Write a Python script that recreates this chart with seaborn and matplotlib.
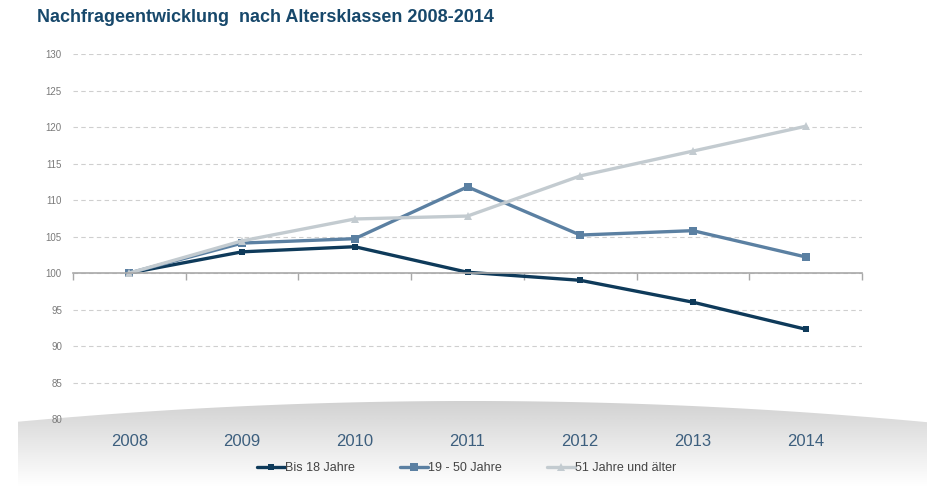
import numpy as np
import pandas as pd
import matplotlib
matplotlib.use("Agg")
import matplotlib.pyplot as plt
import seaborn as sns
from matplotlib.patches import Polygon

jahre = [2008, 2009, 2010, 2011, 2012, 2013, 2014]
bis_18 = [100.0, 102.9, 103.6, 100.1, 99.0, 96.0, 92.3]
j19_50 = [100.0, 104.1, 104.7, 111.8, 105.2, 105.8, 102.2]
ab_51 = [100.0, 104.4, 107.4, 107.8, 113.3, 116.7, 120.1]

serien = ["Bis 18 Jahre", "19 - 50 Jahre", "51 Jahre und älter"]
werte = [bis_18, j19_50, ab_51]
farben = ["#0e3a5a", "#5b80a2", "#c3cbd0"]
marker = ["s", "s", "^"]
msize = [6, 8.5, 7.5]

sns.set_style("white")
plt.rcParams['font.family'] = ['Liberation Sans', 'DejaVu Sans']

fig = plt.figure(figsize=(9.28, 4.86), dpi=100)

# background with the grey curved band
bg = fig.add_axes([0, 0, 1, 1], zorder=0)
bg.set_xlim(0, 928)
bg.set_ylim(486, 0)
bg.axis("off")
xs = np.linspace(18, 928, 200)
top = 401 + 21 * ((xs - 470) / 455) ** 2
poly = np.vstack([np.column_stack([xs, top]), [[928, 486], [18, 486]]])
clip = Polygon(poly, closed=True, facecolor="none", edgecolor="none")
bg.add_patch(clip)
grad = np.linspace(0, 1, 256).reshape(-1, 1)
img = bg.imshow(grad, extent=[18, 928, 486, 398], cmap=matplotlib.colors.LinearSegmentedColormap.from_list(
    "band", ["#d0d0d0", "#e8e8e8", "#ffffff"]), aspect="auto", origin="upper", zorder=0)
img.set_clip_path(clip)

ax = fig.add_axes([73 / 928, 1 - 419 / 486, 789 / 928, 365 / 486], zorder=1)
ax.patch.set_alpha(0)

df = pd.DataFrame({"Jahr": jahre * 3,
                   "Index": bis_18 + j19_50 + ab_51,
                   "Gruppe": [s for s in serien for _ in jahre]})

for s, f, m, ms in zip(serien, farben, marker, msize):
    sub = df[df["Gruppe"] == s]
    sns.lineplot(data=sub, x="Jahr", y="Index", ax=ax, color=f, lw=2.4,
                 marker=m, markersize=ms, markeredgewidth=0, label=s)

ax.set_xlim(2007.5, 2014.5)
ax.set_ylim(80, 130)
ax.set_yticks(range(80, 131, 5))
ax.yaxis.grid(True, linestyle=(0, (4, 3)), color="#cfcfcf", lw=0.8)
ax.xaxis.grid(False)
ax.tick_params(axis="y", length=0, pad=8, labelsize=7, labelcolor="#7a7a7a")
for sp in ["top", "right", "left"]:
    ax.spines[sp].set_visible(False)
ax.spines["bottom"].set_position(("data", 100))
ax.spines["bottom"].set_color("#a8a8a8")
ax.spines["bottom"].set_linewidth(1.2)
ax.set_xticks(jahre)
ax.set_xticks(np.arange(2007.5, 2015, 1), minor=True)
ax.tick_params(axis="x", which="major", length=0, labelbottom=False)
ax.tick_params(axis="x", which="minor", bottom=True, length=5, width=1,
               color="#a8a8a8", direction="out")
ax.set_xlabel("")
ax.set_ylabel("")

sec = ax.secondary_xaxis(0)
sec.set_xticks(jahre)
sec.set_xticklabels([str(j) for j in jahre])
sec.tick_params(length=0, pad=11, labelsize=12, labelcolor="#3d5f7e")
sec.spines["bottom"].set_visible(False)

ax.legend_.remove()
h, l = ax.get_legend_handles_labels()
for hd, ms in zip(h, [5, 6, 6]):
    hd.set_markersize(ms)
fig.legend(h, l, loc="center", bbox_to_anchor=(0.503, 0.037), ncol=3, frameon=False,
           fontsize=9, handlelength=2.2, handletextpad=0.05, columnspacing=3.6,
           labelcolor="#444444")

fig.text(37 / 928, 1 - 18 / 486, "Nachfrageentwicklung  nach Altersklassen 2008-2014",
         fontsize=13, fontweight="bold", color="#17486b", va="center", ha="left")

fig.savefig("out.png", dpi=100)
